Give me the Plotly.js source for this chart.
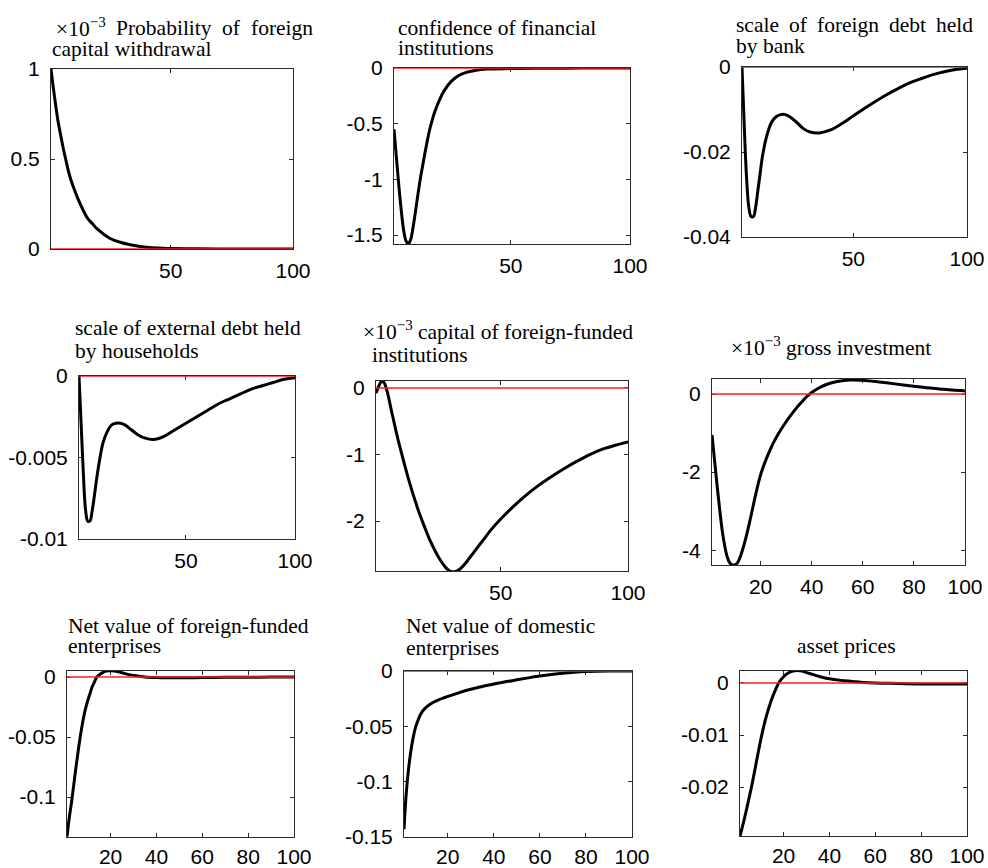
<!DOCTYPE html>
<html><head><meta charset="utf-8">
<script src="https://cdn.plot.ly/plotly-3.0.1.min.js"></script>
<style>html,body{margin:0;padding:0;background:#fff}#chart{width:988px;height:868px}</style>
</head><body><div id="chart"></div>
<script>
// ---------------- data ----------------
const probX = [1,2,3,4,5,6,7,8,9,10,12,14,16,18,20,25,30,35,40,45,50,60,70,80,90,100];
const probY = [1,0.89,0.79,0.70,0.63,0.56,0.50,0.44,0.39,0.35,0.28,0.22,0.17,0.14,0.11,0.06,0.035,0.02,0.01,0.005,0.003,0.001,0,0,0,0];

const confX = [1,2,3,4,5,6,7,8,9,10,11,12,13,14,15,16,17,18,20,22,25,28,31,35,40,50,60,80,100];
const confY = [-0.55,-0.80,-1.05,-1.27,-1.45,-1.55,-1.58,-1.54,-1.43,-1.29,-1.14,-1.00,-0.88,-0.76,-0.65,-0.55,-0.47,-0.40,-0.29,-0.205,-0.12,-0.07,-0.042,-0.022,-0.01,-0.005,-0.003,-0.001,0];

const bankX = [1,2,3,4,5,6,7,8,9,10,12,14,16,18,20,22,25,28,31,35,40,45,50,55,60,65,70,75,80,85,90,95,100];
const bankY = [0,-0.014,-0.026,-0.033,-0.0352,-0.0352,-0.033,-0.029,-0.025,-0.021,-0.016,-0.013,-0.0117,-0.0112,-0.0112,-0.0117,-0.013,-0.0145,-0.0153,-0.0155,-0.0148,-0.0133,-0.0115,-0.0097,-0.008,-0.0064,-0.005,-0.0037,-0.0027,-0.0018,-0.0011,-0.0006,-0.0003];

const hhX = [1,2,3,4,5,6,7,8,9,10,12,14,16,18,20,22,25,28,31,35,40,45,50,55,60,65,70,75,80,85,90,95,100];
const hhY = [0,-0.003,-0.006,-0.0082,-0.0089,-0.0089,-0.0083,-0.0074,-0.0064,-0.0055,-0.0041,-0.0034,-0.0030,-0.0029,-0.0029,-0.0030,-0.0033,-0.0036,-0.0038,-0.0039,-0.0037,-0.0033,-0.0029,-0.0025,-0.0021,-0.0017,-0.0014,-0.0011,-0.0008,-0.0006,-0.0004,-0.0002,-0.0001];

const capX = [1,2,3,4,5,6,7,8,9,10,12,14,16,18,20,22,24,26,28,30,32,34,36,38,40,43,46,50,55,60,65,70,75,80,85,90,95,100];
const capY = [-0.08,0.02,0.09,0.09,0.0,-0.15,-0.33,-0.50,-0.67,-0.83,-1.12,-1.40,-1.65,-1.88,-2.08,-2.27,-2.43,-2.57,-2.68,-2.75,-2.76,-2.72,-2.64,-2.54,-2.44,-2.29,-2.14,-1.97,-1.78,-1.61,-1.46,-1.33,-1.21,-1.10,-1.00,-0.92,-0.86,-0.81];

const invX = [1,2,3,4,5,6,7,8,9,10,11,12,14,16,18,20,22,24,26,28,30,32,34,36,38,40,43,46,50,55,60,65,70,75,80,85,90,95,100];
const invY = [-1.05,-1.7,-2.35,-2.95,-3.5,-3.9,-4.18,-4.33,-4.38,-4.38,-4.32,-4.18,-3.75,-3.2,-2.6,-2.07,-1.7,-1.39,-1.13,-0.91,-0.71,-0.53,-0.36,-0.21,-0.07,0.04,0.16,0.25,0.32,0.36,0.35,0.32,0.28,0.24,0.2,0.16,0.13,0.1,0.08];

const fnvX = [1,2,3,4,5,6,7,8,9,10,11,12,13,14,16,18,20,22,25,28,31,35,40,45,50,60,70,80,90,100];
const fnvY = [-0.133,-0.117,-0.104,-0.089,-0.074,-0.060,-0.047,-0.036,-0.027,-0.020,-0.014,-0.008,-0.004,0.0,0.003,0.005,0.0053,0.005,0.0035,0.002,0.001,0.0,-0.0005,-0.0007,-0.0007,-0.0005,-0.0003,-0.0002,-0.0001,0.0];

const dnvX = [1,2,3,4,5,6,7,8,9,10,12,14,16,18,20,25,30,35,40,45,50,55,60,65,70,75,80,85,90,95,100];
const dnvY = [-0.143,-0.110,-0.088,-0.072,-0.060,-0.051,-0.045,-0.040,-0.0365,-0.034,-0.0305,-0.028,-0.026,-0.0245,-0.023,-0.0195,-0.0165,-0.014,-0.0117,-0.0098,-0.008,-0.0062,-0.0046,-0.0032,-0.002,-0.0011,-0.0005,-0.0002,0,0,0];

const apX = [1,2,3,4,5,6,7,8,9,10,11,12,13,14,15,16,17,18,20,22,24,26,28,30,33,36,40,45,50,55,60,70,80,90,100];
const apY = [-0.0294,-0.0277,-0.0259,-0.0240,-0.0220,-0.0200,-0.0178,-0.0155,-0.0132,-0.0110,-0.0090,-0.0072,-0.0056,-0.0042,-0.0029,-0.0018,-0.0008,0.0001,0.0012,0.0019,0.0023,0.0024,0.0023,0.0020,0.0016,0.0012,0.0008,0.0005,0.0003,0.0001,0.0,-0.0001,-0.0002,-0.0002,-0.0002];

const zeroX = [1,100];
const zeroY = [0,0];

const xTicksA = [50,100];
const xTicksB = [20,40,60,80,100];

const yTicks1 = [0,0.5,1];            const yText1 = ['0','0.5','1'];
const yTicks2 = [0,-0.5,-1,-1.5];     const yText2 = ['0','-0.5','-1','-1.5'];
const yTicks3 = [0,-0.02,-0.04];      const yText3 = ['0','-0.02','-0.04'];
const yTicks4 = [0,-0.005,-0.01];     const yText4 = ['0','-0.005','-0.01'];
const yTicks5 = [0,-1,-2];            const yText5 = ['0','-1','-2'];
const yTicks6 = [0,-2,-4];            const yText6 = ['0','-2','-4'];
const yTicks7 = [0,-0.05,-0.1];       const yText7 = ['0','-0.05','-0.1'];
const yTicks8 = [0,-0.05,-0.1,-0.15]; const yText8 = ['0','-0.05','-0.1','-0.15'];
const yTicks9 = [0,-0.01,-0.02];      const yText9 = ['0','-0.01','-0.02'];

// ---------------- layout ----------------
const W = 988, H = 868;
const series = [
  [probX, probY], [confX, confY], [bankX, bankY],
  [hhX, hhY], [capX, capY], [invX, invY],
  [fnvX, fnvY], [dnvX, dnvY], [apX, apY]
];
const yTickSets = [[yTicks1,yText1],[yTicks2,yText2],[yTicks3,yText3],[yTicks4,yText4],[yTicks5,yText5],[yTicks6,yText6],[yTicks7,yText7],[yTicks8,yText8],[yTicks9,yText9]];
const xTickSets = [xTicksA,xTicksA,xTicksA,xTicksA,xTicksA,xTicksB,xTicksB,xTicksB,xTicksB];
const yRanges = [[0,1],[-1.58,0],[-0.04,0],[-0.01,0],[-2.75,0.105],[-4.38,0.385],[-0.1333,0.005],[-0.15,0],[-0.0294,0.0023]];
// pixel boxes [left, right, top, bottom]
const boxes = [[51,293,69,249],[394,630,68,244],[742,967,67,237],[79,295,376,539],[376,628,381,571],[712,965,379,565],[67,294,671,837],[404,632,671,837],[740,967,671,836]];
const xStandoff = [3,3,3,3,3,3,1,1,1];

const tickFont = {family: '"Liberation Sans", Arial, sans-serif', size: 21, color: '#000'};
const layout = {
  width: W, height: H,
  margin: {l:0, r:0, t:0, b:0},
  paper_bgcolor: '#fff', plot_bgcolor: '#fff',
  showlegend: false,
  annotations: []
};
const traces = [];

for (let i = 0; i < 9; i++) {
  const n = i === 0 ? '' : String(i + 1);
  const b = boxes[i];
  const common = {
    showline: true, mirror: 'ticks', linecolor: '#2b2b2b', linewidth: 1,
    ticks: 'inside', ticklen: 4, tickcolor: '#2b2b2b', tickwidth: 1,
    showgrid: false, zeroline: false, tickfont: tickFont, layer: 'below traces',
    fixedrange: true
  };
  layout['xaxis' + n] = Object.assign({}, common, {
    domain: [b[0] / W, b[1] / W], range: [1, 100], anchor: 'y' + n,
    tickmode: 'array', tickvals: xTickSets[i], ticktext: xTickSets[i].map(String),
    ticklabelstandoff: xStandoff[i]
  });
  layout['yaxis' + n] = Object.assign({}, common, {
    domain: [1 - b[3] / H, 1 - b[2] / H], range: yRanges[i], anchor: 'x' + n,
    tickmode: 'array', tickvals: yTickSets[i][0], ticktext: yTickSets[i][1],
    ticklabelstandoff: 6
  });
  traces.push({
    x: series[i][0], y: series[i][1], xaxis: 'x' + n, yaxis: 'y' + n,
    type: 'scatter', mode: 'lines', cliponaxis: false,
    line: {color: '#000', width: 3, shape: 'spline', smoothing: 1},
    hoverinfo: 'skip'
  });
  traces.push({
    x: zeroX, y: zeroY, xaxis: 'x' + n, yaxis: 'y' + n,
    type: 'scatter', mode: 'lines', cliponaxis: false,
    line: {color: 'rgb(255,30,30)', width: 1.6},
    hoverinfo: 'skip'
  });
}

// ---------------- titles ----------------
const TF = 21.5;
const titleFont = {family: '"Liberation Serif", "Times New Roman", serif', size: TF, color: '#000'};
const ctx = document.createElement('canvas').getContext('2d');
function tw(s, size) { ctx.font = size + 'px "Liberation Serif"'; return ctx.measureText(s).width; }
function wordWidth(w) {
  const m = w.match(/^(.*)<sup>(.*)<\/sup>(.*)$/);
  if (m) return tw(m[1], TF) + tw(m[2], TF * 0.7) + tw(m[3], TF);
  return tw(w, TF);
}
function addText(text, px, py, anchor) {
  layout.annotations.push({
    text: text, xref: 'paper', yref: 'paper', x: px / W, y: 1 - py / H,
    xanchor: anchor || 'left', yanchor: 'middle', showarrow: false,
    font: titleFont, borderpad: 0
  });
}
function justified(words, left, right, py) {
  const widths = words.map(wordWidth);
  const total = widths.reduce((a, c) => a + c, 0);
  const gap = (right - left - total) / (words.length - 1);
  let x = left;
  words.forEach((w, k) => { addText(w, x, py, 'left'); x += widths[k] + gap; });
}

justified(['×10<sup>−3</sup>', 'Probability', 'of', 'foreign'], 55, 312, 28);
addText('capital withdrawal', 51, 49);

addText('confidence of financial', 397, 28);
addText('institutions', 397, 48);

justified(['scale', 'of', 'foreign', 'debt', 'held'], 735, 972, 25);
addText('by bank', 735, 46);

addText('scale of external debt held', 74, 328);
addText('by households', 74, 351);

addText('×10<sup>−3</sup> capital of foreign-funded', 362, 330);
addText('institutions', 371, 355);

addText('×10<sup>−3</sup> gross investment', 730, 346);

addText('Net value of foreign-funded', 67, 626);
addText('enterprises', 67, 646);

addText('Net value of domestic', 405, 626);
addText('enterprises', 405, 648);

addText('asset prices', 846, 646, 'center');

Plotly.newPlot('chart', traces, layout, {staticPlot: true, displayModeBar: false});
</script>
</body></html>
